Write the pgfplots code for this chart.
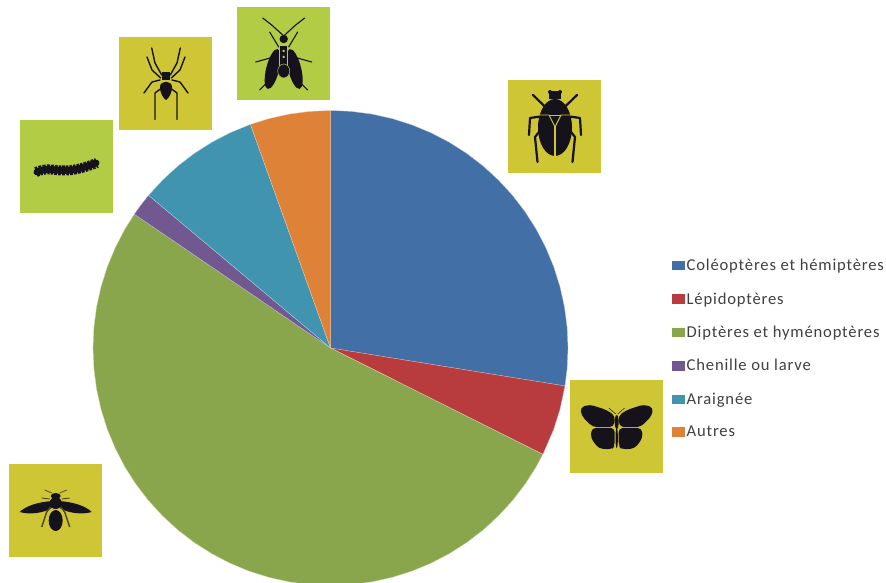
\documentclass[border=0pt]{standalone}
\usepackage{fontspec}
\setmainfont{Carlito}[LetterSpace=5]
\usepackage{pgfplots}
\pgfplotsset{compat=1.18}

\definecolor{cblue}{RGB}{66,112,166}
\definecolor{cred}{RGB}{184,60,62}
\definecolor{cgreen}{RGB}{138,166,76}
\definecolor{cpurple}{RGB}{113,88,145}
\definecolor{cteal}{RGB}{64,148,176}
\definecolor{corange}{RGB}{222,130,55}
\definecolor{iconyellow}{RGB}{206,198,52}
\definecolor{iconlime}{RGB}{178,204,70}
\definecolor{bug}{RGB}{22,18,28}

\pgfplotsset{
  slice/.style={draw=white!60!#1, line width=0.3pt, fill=#1, data cs=polar},
}

% icon: square, px coordinates of the top left corner
\newcommand{\iconbox}[3]{\fill[#1] (#2,#3) rectangle ++(93,93);}

\begin{document}
\begin{tikzpicture}
\clip (0,0) rectangle (886bp,583bp);
\begin{axis}[
  scale only axis, width=886bp, height=583bp,
  at={(0,0)}, anchor=south west,
  xmin=-330.5, xmax=555.5, ymin=-235, ymax=348,
  hide axis,
  legend style={at={(axis cs:341.5,91)}, anchor=north west, draw=none, fill=none,
    font=\fontsize{16.6bp}{17bp}\selectfont, text=black!75, row sep=16.4bp, inner sep=0pt,
    /tikz/every even column/.append style={column sep=6bp}},
  legend cell align=left,
  legend image code/.code={\fill[#1, draw=none] (0bp,-4.7bp) rectangle (12.5bp,4.7bp);},
]
% angle in degrees, radius in px
\addplot[slice=cblue] coordinates {(0,0) (90,237.5) (85,237.5) (80,237.5) (75,237.5) (70,237.5) (65,237.5) (60,237.5) (55,237.5) (50,237.5) (45,237.5) (40,237.5) (35,237.5) (30,237.5) (25,237.5) (20,237.5) (15,237.5) (10,237.5) (5,237.5) (0,237.5) (-5,237.5) (-9.2,237.5)} -- cycle;
\addplot[slice=cred] coordinates {(0,0) (-9.2,237.5) (-15,237.5) (-20,237.5) (-26.6,237.5)} -- cycle;
\addplot[slice=cgreen] coordinates {(0,0) (145.7,237.5) (150,237.5) (155,237.5) (160,237.5) (165,237.5) (170,237.5) (175,237.5) (180,237.5) (185,237.5) (190,237.5) (195,237.5) (200,237.5) (205,237.5) (210,237.5) (215,237.5) (220,237.5) (225,237.5) (230,237.5) (235,237.5) (240,237.5) (245,237.5) (250,237.5) (255,237.5) (260,237.5) (265,237.5) (270,237.5) (275,237.5) (280,237.5) (285,237.5) (290,237.5) (295,237.5) (300,237.5) (305,237.5) (310,237.5) (315,237.5) (320,237.5) (325,237.5) (330,237.5) (333.4,237.5)} -- cycle;
\addplot[slice=cpurple] coordinates {(0,0) (140,237.5) (143,237.5) (145.7,237.5)} -- cycle;
\addplot[slice=cteal] coordinates {(0,0) (109.7,237.5) (115,237.5) (120,237.5) (125,237.5) (130,237.5) (135,237.5) (140,237.5)} -- cycle;
\addplot[slice=corange] coordinates {(0,0) (90,237.5) (95,237.5) (100,237.5) (105,237.5) (109.7,237.5)} -- cycle;
\legend{Coléoptères et hémiptères, Lépidoptères, Diptères et hyménoptères, Chenille ou larve, Araignée, Autres}
\end{axis}

% insect icons, in px of the reference
\begin{scope}[x=1bp, y=-1bp, yshift=583bp]
  \iconbox{iconyellow}{508}{80}
  \iconbox{iconyellow}{570}{380}
  \iconbox{iconyellow}{9}{464}
  \iconbox{iconlime}{20}{120}
  \iconbox{iconyellow}{119}{37}
  \iconbox{iconlime}{237}{7}

  % beetle
  \begin{scope}[shift={(555,0)}]
    \foreach \s in {1,-1} {
      \begin{scope}[xscale=\s]
        \draw[bug, line width=2.2bp, line cap=round] (10,106.7) -- (22,95);
        \draw[bug, line width=2.2bp, line cap=round, line join=round] (16,116.7) -- (25,118) -- (26,135);
        \draw[bug, line width=2.2bp, line cap=round, line join=round] (16,132) -- (20,137) -- (17.5,162);
        \fill[bug] (5,92) circle (2);
      \end{scope}
    }
    \fill[bug] (-6,90.7) rectangle (6,99);
    \fill[bug] (0,127.5) ellipse (17 and 28.5);
    \draw[iconyellow, line width=0.9bp] (-15,115) -- (-6,115) -- (0,127) -- (6,115) -- (15,115);
    \draw[iconyellow, line width=1.4bp] (0,126) -- (0,156);
    \draw[iconyellow, line width=0.6bp] (-6,115) -- (6,115);
  \end{scope}

  % butterfly
  \begin{scope}[shift={(616.7,0)}]
    \foreach \s in {1,-1} {
      \begin{scope}[xscale=\s]
        \fill[bug, rounded corners=4bp] (1.5,416) -- (10,410) -- (27,404.5) -- (36.5,407.5) -- (35,416) -- (24,427) -- (3,427) -- cycle;
        \fill[bug, rounded corners=4bp] (2,428) -- (25,428) -- (26,438) -- (18,448.5) -- (5,449.5) -- (2,446) -- cycle;
        \draw[bug, line width=0.5bp] (1,414) -- (8,408);
      \end{scope}
    }
    \fill[bug] (0,422) ellipse (2 and 7);
    \fill[bug] (0,438) ellipse (1.2 and 10);
  \end{scope}

  % bee
  \begin{scope}[shift={(55.7,0)}]
    \foreach \s in {1,-1} {
      \begin{scope}[xscale=\s]
        \fill[bug] (3,501) .. controls (18,502) and (30,506) .. (36,512) .. controls (26,515) and (12,513) .. (4,508) -- cycle;
        \draw[bug!60!iconyellow, line width=0.9bp] (4,493) -- (11,490);
        \draw[bug!70!iconyellow, line width=1.4bp] (5,507) -- (9,512) -- (14,527);
        \draw[bug!70!iconyellow, line width=0.9bp] (6,499) -- (14,498);
      \end{scope}
    }
    \fill[bug] (0,496) ellipse (5 and 3);
    \fill[bug] (0,503) ellipse (6 and 6);
    \fill[bug] (0,520.5) ellipse (7 and 10.5);
  \end{scope}

  % caterpillar
  \draw[bug, line width=7bp, line cap=round] (37,172) .. controls (48,167) and (55,171) .. (66,170.5) .. controls (78,170) and (88,166) .. (96,163);
  \draw[bug, line width=10bp, dash pattern=on 2.6bp off 1.2bp] (36,172) .. controls (48,167) and (55,171) .. (66,170.5) .. controls (78,170) and (88,166) .. (97,163);

  % spider
  \begin{scope}[shift={(166,0)}]
    \foreach \s in {1,-1} {
      \begin{scope}[xscale=\s]
        \draw[bug, line width=1.4bp, line cap=round, line join=round] (4.3,75) -- (11,63) -- (14.3,48);
        \draw[bug, line width=1.4bp, line cap=round, line join=round] (5.3,78) -- (14,70) -- (19,57);
        \draw[bug, line width=1.4bp, line cap=round, line join=round] (6,80) -- (14,82) -- (22,93);
        \draw[bug, line width=1.4bp, line cap=round, line join=round] (4.3,88) -- (11,93) -- (11,119.5);
      \end{scope}
    }
    \fill[bug] (-4,72) rectangle (4,80);
    \fill[bug] (-6,87) .. controls (-6,80) and (6,80) .. (6,87) .. controls (6,93) and (3,98) .. (0,100) .. controls (-3,98) and (-6,93) .. (-6,87) -- cycle;
  \end{scope}

  % fly
  \begin{scope}[shift={(283.7,0)}]
    \foreach \s in {1,-1} {
      \begin{scope}[xscale=\s]
        \draw[bug, line width=1.1bp, line cap=round, line join=round] (1,35) -- (12,25) -- (21,18);
        \draw[bug, line width=1.1bp, line cap=round] (5,47) -- (14,32);
        \draw[bug, line width=1.1bp, line cap=round] (10,57) -- (28,62);
        \draw[bug, line width=1.1bp, line cap=round] (16,82) -- (24,90);
        \fill[bug, rotate around={14:(11,69)}] (11,69) ellipse (6.5 and 20.5);
      \end{scope}
    }
    \fill[bug] (0,39) circle (4.2);
    \draw[iconlime, line width=0.9bp, fill=bug] (-4,45) rectangle (4,65);
    \fill[iconlime] (-1,50) rectangle (1,52) (-1,56) rectangle (1,58);
    \draw[iconlime, line width=0.5bp, fill=bug] (0,71) ellipse (6 and 7);
  \end{scope}
\end{scope}
\end{tikzpicture}
\end{document}
